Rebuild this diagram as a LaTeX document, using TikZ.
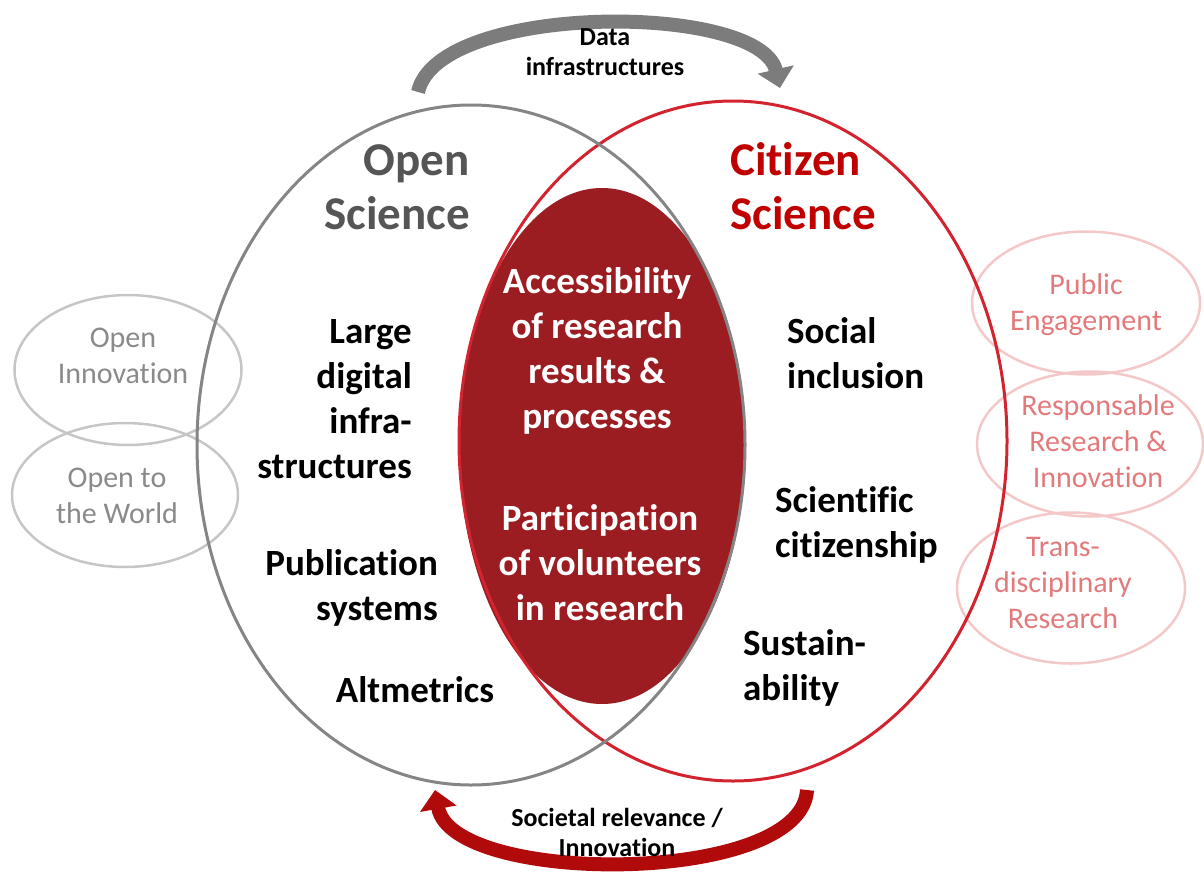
\documentclass[tikz,border=0pt]{standalone}
\usepackage{fontspec}
\setmainfont{Carlito}[Ligatures=NoCommon]
\usepackage{tikz}
\usetikzlibrary{arrows.meta,shapes,positioning}
\definecolor{osgray}{HTML}{858585}
\definecolor{csred}{HTML}{D2232E}
\definecolor{corered}{HTML}{9B1C21}
\definecolor{headgray}{HTML}{555555}
\definecolor{headred}{HTML}{C00000}
\definecolor{sidegray}{HTML}{C6C6C6}
\definecolor{sidegraytext}{HTML}{8A8A8A}
\definecolor{sidepink}{HTML}{F4C8C8}
\definecolor{sidepinktext}{HTML}{E27A7C}
\definecolor{flowgray}{HTML}{7C7C7C}
\definecolor{flowred}{HTML}{B00A0A}
\tikzset{
  flow/.style={-{Triangle[length=19pt,width=36pt]},line width=14pt},
}

\begin{document}
\begin{tikzpicture}[x=1pt,y=-1pt,
    bigset/.style={ellipse, draw, line width=3pt, inner sep=0pt,
      minimum width=548pt, minimum height=680pt},
    side/.style={ellipse, draw, line width=2.5pt, inner sep=0pt},
    sethead/.style={inner sep=0pt, font={\fontsize{47}{54}\selectfont\bfseries}},
    setitem/.style={inner sep=0pt, font={\fontsize{37}{45}\selectfont\bfseries}},
    sidetext/.style={inner sep=0pt, align=center, font={\fontsize{30}{36}\selectfont}},
    flowtext/.style={inner sep=0pt, align=center, font={\fontsize{26}{30}\selectfont\bfseries}}
    ]

    \useasboundingbox (0,0) rectangle (1204,875);

    % side ellipses
    \node[side, draw=sidegray, minimum width=227pt, minimum height=150pt] (oi) at (128,370) {};
    \node[side, draw=sidegray, minimum width=226pt, minimum height=144pt] (ow) at (125,495) {};
    \node[side, draw=sidepink, minimum width=228pt, minimum height=143pt] (pe) at (1086,303) {};
    \node[side, draw=sidepink, minimum width=226pt, minimum height=145pt] (rri) at (1090,444) {};
    \node[side, draw=sidepink, minimum width=228pt, minimum height=151pt] (tr) at (1071,588) {};

    % overlap and the two sets
    \node[ellipse, fill=corered, inner sep=0pt, minimum width=286pt, minimum height=516pt] (core) at (602,446) {};
    \node[bigset, draw=csred] (cs) at (733,441) {};
    \node[bigset, draw=osgray] (os) at (471,445) {};

    % texts: base anchor sits on the last line
    \node[sethead, text=headgray, align=right, anchor=base east] (osh) at (470,229) {Open\\Science};
    \node[sethead, text=headred, align=left, anchor=base west] (csh) at (730,229) {Citizen\\Science};

    \node[setitem, align=right, anchor=base east] (ldi) at (412,478) {Large\\digital\\infra-\\structures};
    \node[setitem, align=right, anchor=base east] (pub) at (438,620) {Publication\\systems};
    \node[setitem, anchor=base] (alt) at (415,702) {Altmetrics};

    \node[setitem, text=white, align=center, anchor=base] (acc) at (597,428) {Accessibility\\of research\\results \&\\processes};
    \node[setitem, text=white, align=center, anchor=base] (par) at (600,620) {Participation\\of volunteers\\in research};

    \node[setitem, align=left, anchor=base west] (soc) at (787,388) {Social\\inclusion};
    \node[setitem, align=left, anchor=base west] (sci) at (775,557) {Scientific\\citizenship};
    \node[setitem, align=left, anchor=base west] (sus) at (743,700) {Sustain-\\ability};

    \node[sidetext, text=sidegraytext, anchor=base] at (123,383) {Open\\Innovation};
    \node[sidetext, text=sidegraytext, anchor=base] at (117,523) {Open to\\the World};
    \node[sidetext, text=sidepinktext, anchor=base] at (1086,330) {Public\\Engagement};
    \node[sidetext, text=sidepinktext, anchor=base] at (1098,487) {Responsable\\Research \&\\Innovation};
    \node[sidetext, text=sidepinktext, anchor=base] at (1063,628) {Trans-\\disciplinary\\Research};

    % flows between the sets
    \coordinate (dataS) at (418,92);
    \coordinate (dataE) at (780,88);
    \coordinate (socS) at (807,790);
    \coordinate (socE) at (435,790);
    \draw[flow, draw=flowgray] (dataS) .. controls (438,2) and (760,2) .. (dataE);
    \draw[flow, draw=flowred] (socS) .. controls (802,886) and (452,886) .. (socE);
    \node[flowtext, anchor=base] (dat) at (605,75) {Data\\infrastructures};
    \node[flowtext, anchor=base] (rel) at (617,856) {Societal relevance /\\Innovation};

\end{tikzpicture}
\end{document}
